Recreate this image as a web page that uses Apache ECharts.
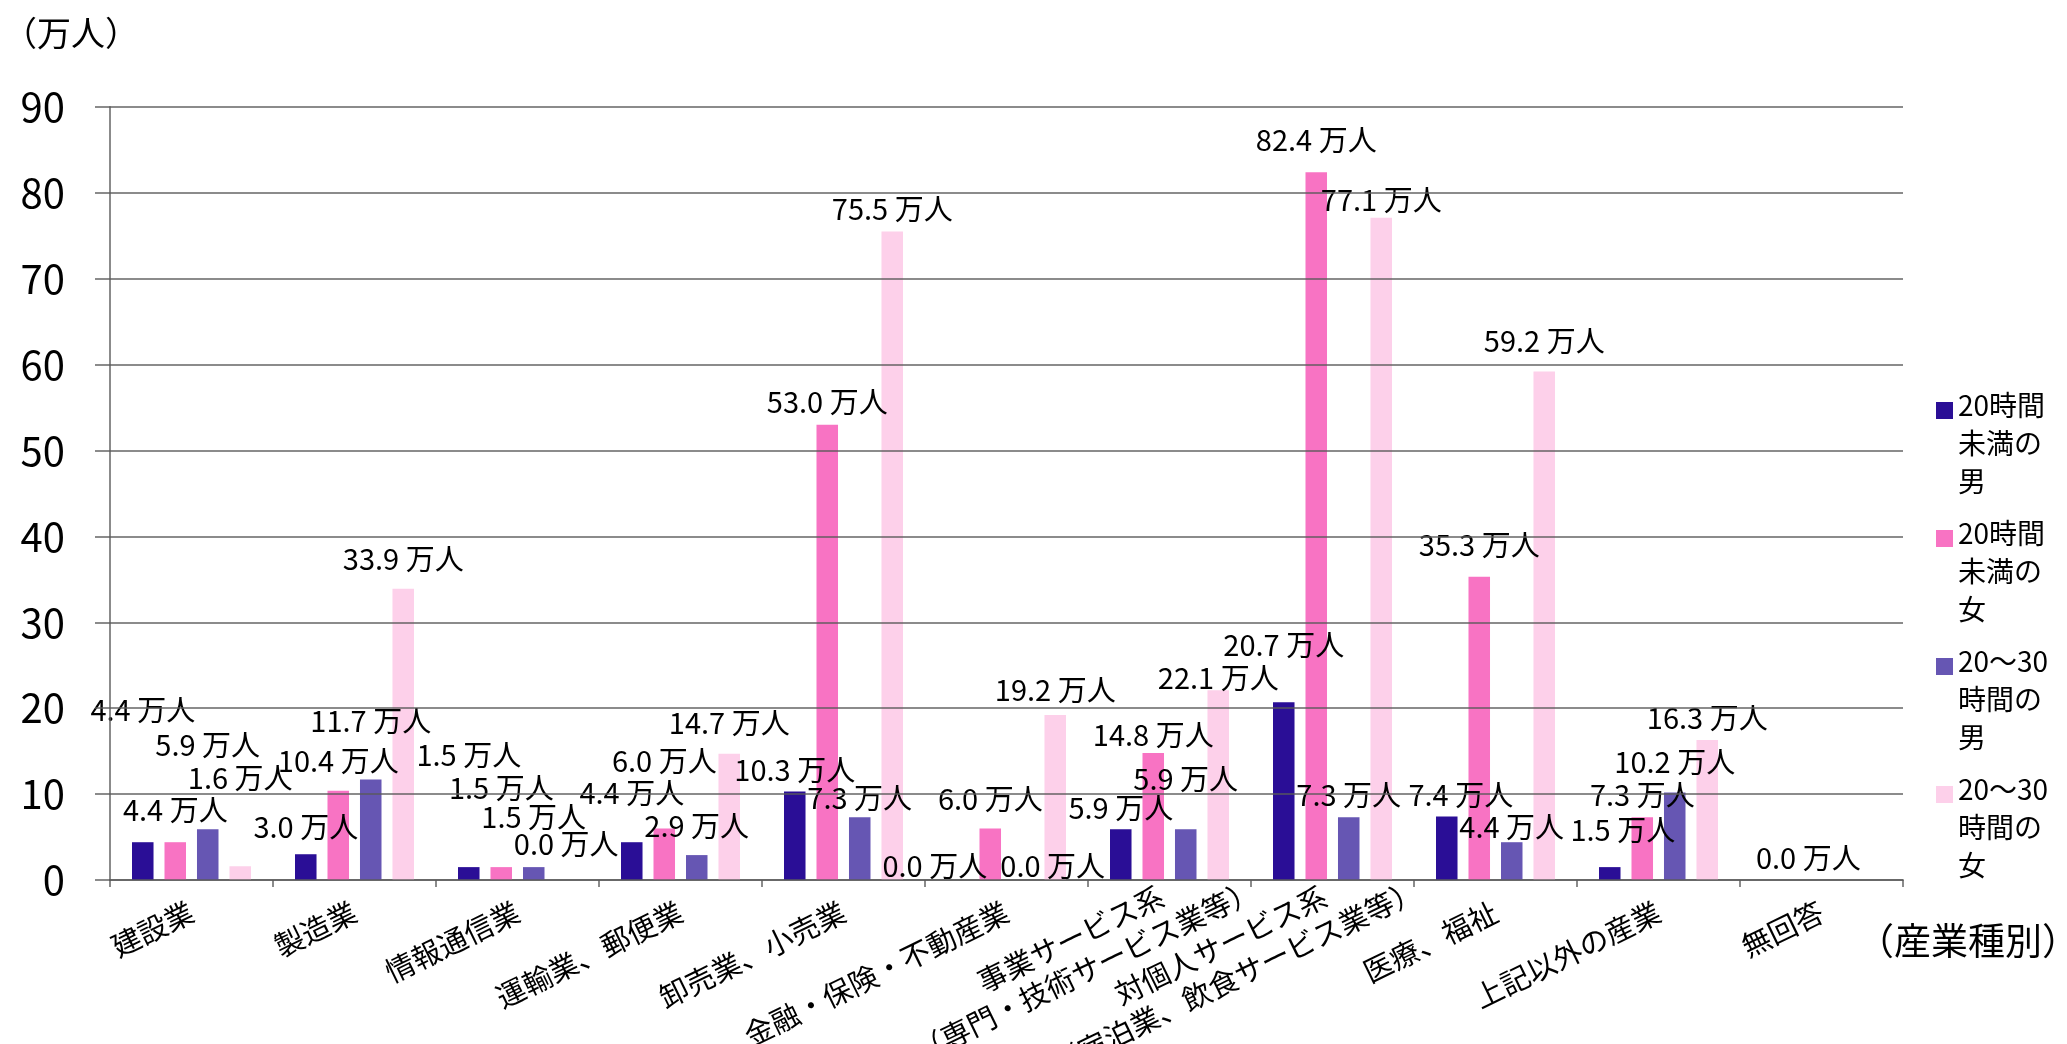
<!DOCTYPE html>
<html>
<head>
<meta charset="utf-8">
<title>産業種別</title>
<script src="https://cdn.jsdelivr.net/npm/echarts@6/dist/echarts.min.js"></script>
<style>
  html, body { margin: 0; padding: 0; background: #fff; }
  #chart { width: 2067px; height: 1044px; }
</style>
</head>
<body>
<div id="chart"></div>
<script>
// 産業種別の人数（万人）
const categories = [
  '建設業',
  '製造業',
  '情報通信業',
  '運輸業、郵便業',
  '卸売業、小売業',
  '金融・保険・不動産業',
  '事業サービス系\n（専門・技術サービス業等）',
  '対個人サービス系\n（宿泊業、飲食サービス業等）',
  '医療、福祉',
  '上記以外の産業',
  '無回答'
];
const seriesNames = ['20時間未満の男', '20時間未満の女', '20～30時間の男', '20～30時間の女'];
const legendLabels = ['20時間\n未満の\n男', '20時間\n未満の\n女', '20～30\n時間の\n男', '20～30\n時間の\n女'];

const menUnder20 = [4.4, 3.0, 1.5, 4.4, 10.3, 0.0, 5.9, 20.7, 7.4, 1.5, null];
const womenUnder20 = [4.4, 10.4, 1.5, 6.0, 53.0, 6.0, 14.8, 82.4, 35.3, 7.3, 0.0];
const men20to30 = [5.9, 11.7, 1.5, 2.9, 7.3, 0.0, 5.9, 7.3, 4.4, 10.2, null];
const women20to30 = [1.6, 33.9, 0.0, 14.7, 75.5, 19.2, 22.1, 77.1, 59.2, 16.3, null];

const yMin = 0;
const yMax = 90;
const yStep = 10;

const colors = ['#2a0e96', '#f873c3', '#6656b3', '#fdd0ea'];

// ラベルの持ち上げ量(px)と横ずれ(px) — 元のグラフで手動配置されていた位置
const labelLift = [
  [132, 27, 112, 49, 22, 14, 21, 57, 21, 37, 0],
  [32, 30, 79, 67, 23, 29, 18, 32, 32, 22, 22],
  [84, 59, 50, 29, 19, 14, 50, 22, 15, 30, 0],
  [88, 30, 36, 31, 23, 25, 12, 18, 31, 22, 0]
];
const labelShift = [
  [0, 0, 0, 0, 0, -23, 0, 0, 14, 13, 0],
  [0, 0, 0, 0, 0, 0, 0, 0, 0, 0, 3],
  [0, 0, 0, 0, 0, 30, 0, 0, 0, 0, 0],
  [0, 0, 0, 0, 0, 0, 0, 0, 0, 0, 0]
];

const FONT = 'Noto Sans CJK JP';
const GRID_COLOR = 'rgba(90,90,90,0.7)';
const CAT_FONT_SIZE = 29;
const CAT_LINE_HEIGHT = 35;

const chartDom = document.getElementById('chart');
const myChart = echarts.init(chartDom);

const seriesValues = [menUnder20, womenUnder20, men20to30, women20to30];

// 2行の項目名は行を中央揃えにし、1行目の末尾を目盛り位置に合わせる
const measureCtx = document.createElement('canvas').getContext('2d');
measureCtx.font = CAT_FONT_SIZE + 'px "' + FONT + '"';
const xAxisData = categories.map(c => {
  if (c.indexOf('\n') < 0) return c;
  const firstLine = c.split('\n')[0];
  const w = Math.round(measureCtx.measureText(firstLine).width);
  return {
    value: c,
    textStyle: { align: 'center', padding: [CAT_LINE_HEIGHT, w, 0, 0] }
  };
});

// 凡例アイコン：上寄せの小さな四角（下端に見えない点を置いて高さを確保）
const legendIcon = 'path://M0,16h17v17h-17z M0,0h0.01v0.01h-0.01z M16.99,113.99h0.01v0.01h-0.01z';

const option = {
  animation: false,
  backgroundColor: '#fff',
  title: [
    {
      text: '（万人）',
      left: 3,
      top: 16,
      padding: 0,
      textStyle: { fontFamily: FONT, fontSize: 34, fontWeight: 'normal', color: '#000' }
    },
    {
      text: '（産業種別）',
      right: -12,
      top: 922,
      padding: 0,
      textStyle: { fontFamily: FONT, fontSize: 37, fontWeight: 'normal', color: '#000' }
    }
  ],
  legend: {
    orient: 'vertical',
    left: 1936,
    top: 386,
    padding: 0,
    itemGap: 14,
    itemWidth: 17,
    itemHeight: 114,
    icon: legendIcon,
    data: seriesNames,
    formatter: name => legendLabels[seriesNames.indexOf(name)],
    textStyle: { fontFamily: FONT, fontSize: 28, lineHeight: 38, color: '#000' }
  },
  grid: {
    left: 110,
    right: 164,
    top: 107,
    bottom: 164,
    containLabel: false,
    outerBoundsMode: 'none'
  },
  xAxis: {
    type: 'category',
    data: xAxisData,
    boundaryGap: true,
    axisLine: { lineStyle: { color: GRID_COLOR, width: 2 } },
    axisTick: { show: true, interval: 0, length: 7, lineStyle: { color: GRID_COLOR, width: 2 } },
    axisLabel: {
      interval: 0,
      rotate: 26,
      margin: 30,
      fontFamily: FONT,
      fontSize: CAT_FONT_SIZE,
      lineHeight: CAT_LINE_HEIGHT,
      color: '#000'
    },
    splitLine: { show: false }
  },
  yAxis: {
    type: 'value',
    min: yMin,
    max: yMax,
    interval: yStep,
    z: 3,
    axisLine: { show: true, lineStyle: { color: GRID_COLOR, width: 2 } },
    axisTick: { show: true, length: 15, lineStyle: { color: GRID_COLOR, width: 2 } },
    axisLabel: { margin: 45, fontFamily: FONT, fontSize: 40, color: '#000' },
    splitLine: { show: true, lineStyle: { color: GRID_COLOR, width: 2 } }
  },
  series: seriesValues.map((vals, s) => ({
    name: seriesNames[s],
    type: 'bar',
    barGap: '51%',
    barCategoryGap: '27%',
    itemStyle: { color: colors[s] },
    label: {
      show: true,
      formatter: p => p.value.toFixed(1) + ' 万人',
      align: 'center',
      verticalAlign: 'middle',
      fontFamily: FONT,
      fontSize: 29,
      color: '#000'
    },
    labelLayout: { hideOverlap: false },
    data: vals.map((v, i) => {
      if (v == null) return null;
      const dx = labelShift[s][i];
      return {
        value: v,
        label: {
          position: ['50%', -labelLift[s][i]],
          // 中央揃えのまま横にずらすため片側だけ余白を付ける
          padding: dx >= 0 ? [0, 0, 0, 2 * dx] : [0, -2 * dx, 0, 0]
        }
      };
    })
  }))
};

myChart.setOption(option);

window.addEventListener('resize', () => {
  myChart.resize();
});
</script>
</body>
</html>
